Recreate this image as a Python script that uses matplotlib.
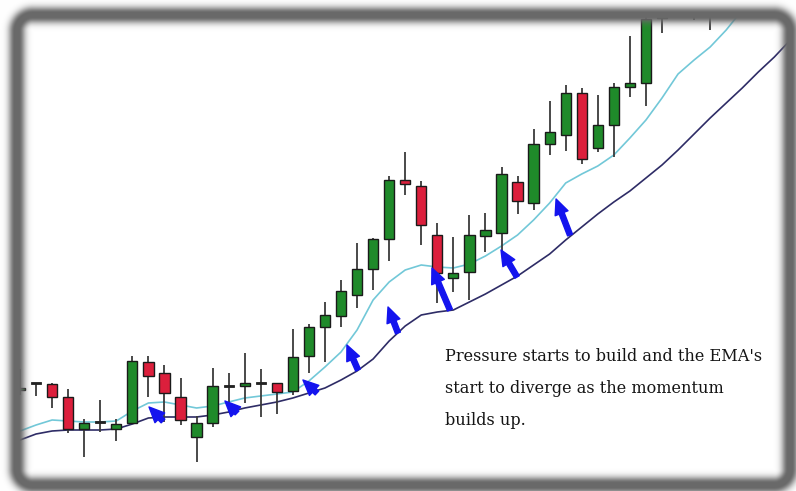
import matplotlib

matplotlib.use("Agg")
import matplotlib.pyplot as plt
import numpy as np


# candle data, price levels (index = bar number)
OPENS = [101, 108, 107, 94, 62, 69, 62, 68, 129, 118, 94, 54, 68, 105, 105, 108, 108,
         100, 135, 164, 175, 196, 222, 252, 311, 305, 256, 213, 219, 255, 258, 309, 288,
         347, 356, 398, 343, 366, 404, 408, 473, 485, 490, 495]
HIGHS = [122, 108, 108, 102, 72, 91, 72, 135, 135, 126, 113, 75, 123, 118, 138, 122, 108,
         162, 167, 189, 211, 248, 253, 315, 339, 310, 268, 254, 276, 278, 324, 315, 362,
         390, 406, 403, 396, 408, 455, 478, 491, 500, 505, 510]
LOWS = [96, 95, 83, 58, 34, 59, 50, 67, 94, 69, 66, 29, 64, 78, 88, 74, 77,
        96, 118, 129, 164, 183, 201, 230, 296, 246, 188, 199, 191, 239, 239, 277, 281,
        336, 340, 327, 339, 334, 394, 385, 458, 480, 471, 461]
CLOSES = [103, 108, 94, 62, 68, 69, 67, 130, 115, 98, 71, 68, 105, 105, 108, 108, 99,
          134, 164, 176, 200, 222, 252, 311, 307, 266, 218, 218, 256, 261, 317, 290, 347,
          359, 398, 332, 366, 404, 408, 472, 478, 495, 500, 505]

# exponential moving averages as drawn on the chart
EMA_FAST = [60, 66, 71, 70, 69, 69, 70, 80, 88, 89, 86, 83, 85, 89, 93, 95, 97, 99, 110,
            124, 139, 161, 191, 209, 221, 226, 224, 223, 227, 235, 245, 256, 271, 288,
            308, 317, 325, 336, 353, 371, 393, 417, 431, 444, 461, 481, 501]
EMA_SLOW = [51, 57, 60, 61, 61, 61, 62, 67, 73, 74, 74, 74, 76, 79, 83, 86, 89, 93, 98,
            103, 111, 120, 132, 150, 165, 176, 179, 181, 189, 197, 206, 215, 226, 237,
            251, 264, 277, 289, 300, 313, 326, 341, 357, 373, 388, 403, 419, 434, 451]

# arrows: (bar, level) of tail and head
ARROW_TAILS = [(8.91, 70), (13.52, 78), (18.5, 98), (21.06, 121), (23.55, 158),
               (26.79, 181), (30.97, 214), (34.27, 256)]
ARROW_HEADS = [(8.04, 84), (12.77, 90), (17.63, 111), (20.37, 146), (22.93, 184),
               (25.67, 223), (29.97, 241), (33.40, 292)]

NOTE_LINES = [
    "Pressure starts to build and the EMA's",
    "start to diverge as the momentum",
    "builds up.",
]

WIDTH_PX, HEIGHT_PX = 796, 491
FIRST_BAR_PX = 20
BAR_STEP_PX = 16.05

GREEN = "#1f8a2a"
RED = "#dc1f3c"
WICK = "#3a3a3a"


def draw_candles(ax):
    for i, (o, h, l, c) in enumerate(zip(OPENS, HIGHS, LOWS, CLOSES)):
        ax.vlines(i, l, h, color=WICK, lw=1.3, zorder=2)
        color = GREEN if c >= o else RED
        height = abs(c - o)
        if height < 1.5:
            ax.bar(i, 1.6, bottom=min(o, c) - 0.8, width=0.64, color="#222222",
                   edgecolor="#222222", lw=0.6, zorder=3)
        else:
            ax.bar(i, height, bottom=min(o, c), width=0.64, color=color,
                   edgecolor="#1a1a1a", lw=1.0, zorder=3)


def frame_overlay():
    # soft grey photo-style border drawn over the chart
    yy, xx = np.mgrid[0:HEIGHT_PX, 0:WIDTH_PX] + 0.5
    left, right, top, bottom, radius = 17, 790, 15, 485, 16
    cx, cy = (left + right) / 2, (top + bottom) / 2
    qx = np.abs(xx - cx) - ((right - left) / 2 - radius)
    qy = np.abs(yy - cy) - ((bottom - top) / 2 - radius)
    sd = np.hypot(np.maximum(qx, 0), np.maximum(qy, 0)) + np.minimum(np.maximum(qx, qy), 0) - radius
    w = np.exp(-(np.maximum(np.abs(sd) - 2, 0) / 6.5) ** 2)

    rgba = np.zeros((HEIGHT_PX, WIDTH_PX, 4))
    rgba[..., :3] = 105 / 255
    rgba[..., 3] = w
    outside = sd > 0
    shade = (255 - w * 150) / 255
    for k in range(3):
        rgba[..., k][outside] = shade[outside]
    rgba[..., 3][outside] = 1.0
    return rgba


def main():
    fig = plt.figure(figsize=(WIDTH_PX / 100, HEIGHT_PX / 100), dpi=100)
    ax = fig.add_axes([0, 0, 1, 1])
    ax.set_xlim(-FIRST_BAR_PX / BAR_STEP_PX, (WIDTH_PX - FIRST_BAR_PX) / BAR_STEP_PX)
    ax.set_ylim(0, HEIGHT_PX)
    ax.axis("off")

    ax.plot(range(len(EMA_SLOW)), EMA_SLOW, color="#2e2c66", lw=1.2, zorder=1)
    ax.plot(range(len(EMA_FAST)), EMA_FAST, color="#72c8d8", lw=1.2, zorder=1)
    draw_candles(ax)

    for tail, head in zip(ARROW_TAILS, ARROW_HEADS):
        ax.annotate(
            "",
            xy=head,
            xytext=tail,
            arrowprops=dict(
                arrowstyle="simple,head_length=1.0,head_width=0.9,tail_width=0.34",
                color="#1414ee",
                mutation_scale=11,
                shrinkA=0,
                shrinkB=0,
            ),
            zorder=4,
        )

    for n, line in enumerate(NOTE_LINES):
        fig.text(445 / WIDTH_PX, 1 - (361 + 32 * n) / HEIGHT_PX, line, fontsize=11.6,
                 family="DejaVu Serif", color="#151515", va="baseline")

    frame = fig.add_axes([0, 0, 1, 1])
    frame.imshow(frame_overlay(), aspect="auto", interpolation="bilinear")
    frame.axis("off")

    fig.savefig("out.png", dpi=100)
    plt.close(fig)


if __name__ == "__main__":
    main()
